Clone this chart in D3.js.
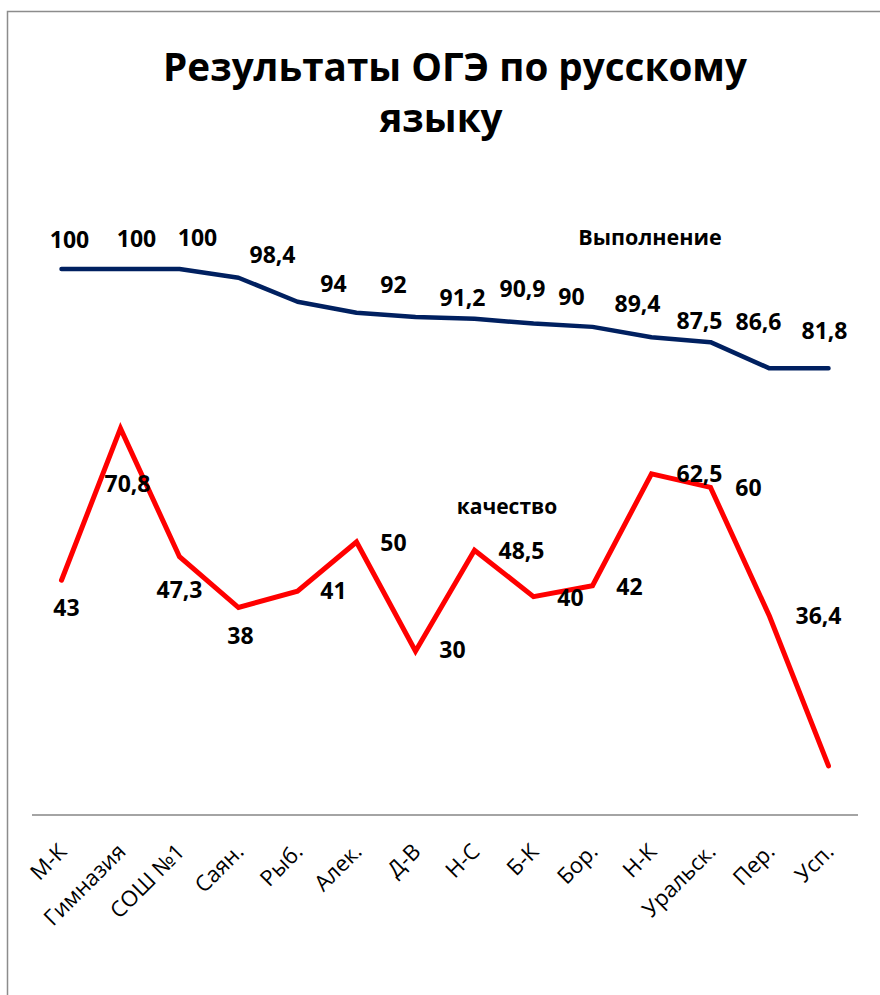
<!DOCTYPE html>
<html><head><meta charset="utf-8">
<script src="https://cdn.jsdelivr.net/npm/d3@7/dist/d3.min.js"></script>
<style>html,body{margin:0;padding:0;background:#fff;}svg{display:block;}</style>
</head><body>
<svg id="chart" width="880" height="995"></svg>
<script>
const categories = ["М-К","Гимназия","СОШ №1","Саян.","Рыб.","Алек.","Д-В","Н-С","Б-К","Бор.","Н-К","Уральск.","Пер.","Усп."];
const completion = [100,100,100,98.4,94,92,91.2,90.9,90,89.4,87.5,86.6,81.8,81.8];
const quality = [43,70.8,47.3,38,41,50,30,48.5,40,42,62.5,60,36.4,9];
const completionLabelCount = 13;
const qualityLabelCount = 13;
const titleLines = ["Результаты ОГЭ по русскому","языку"];
const seriesNames = ["Выполнение","качество"];

// label layout (pixel offsets relative to the data point)
const completionLabelOffsets = [[8,-21],[16,-22],[18,-23],[34,-15],[36,-10],[37,-20],[47,-11],[48,-22],[38,-19],[45,-15],[48,-8],[48,-12],[55,-29]];
const qualityLabelOffsets = [[5,36],[7,64],[0,41],[2,36],[36,8],[37,9],[37,7],[47,9],[37,9],[37,9],[48,8],[38,9],[49,8]];

const svg = d3.select("#chart");
const FONT = "'Open Sans', sans-serif";

// border
svg.append("rect").attr("x",7.5).attr("y",11.5).attr("width",900).attr("height",1000)
  .attr("fill","none").attr("stroke","#8c8c8c").attr("stroke-width",1.5);

const x = d3.scalePoint().domain(categories).range([61.5, 828.5]);
const y = d3.scaleLinear().domain([0,100]).range([815,269]);

// title
const t1 = svg.append("text").attr("x",455).attr("y",81).attr("text-anchor","middle")
  .attr("font-family",FONT).attr("font-weight",700).attr("font-size",40).attr("fill","#000").text(titleLines[0]);
const w = t1.node().getComputedTextLength();
const fs = 40*584/w;
t1.attr("font-size",fs);
svg.append("text").attr("x",441).attr("y",132).attr("text-anchor","middle")
  .attr("font-family",FONT).attr("font-weight",700).attr("font-size",fs).attr("fill","#000").text(titleLines[1]);

// x axis
const xAxis = d3.axisBottom(x).tickSize(0).tickPadding(0);
const gx = svg.append("g").attr("transform","translate(0,815)").call(xAxis);
gx.select(".domain").attr("d","M32,0H858").attr("stroke","#868686").attr("stroke-width",1.5);
gx.selectAll(".tick text")
  .attr("font-family",FONT).attr("font-size",22).attr("fill","#000")
  .attr("text-anchor","end").attr("dy",null).attr("y",null)
  .attr("transform","translate(6,38) rotate(-45)");

// lines
const line = d3.line().x((d,i)=>x(categories[i])).y(d=>y(d));
svg.append("path").datum(completion).attr("d",line).attr("fill","none")
  .attr("stroke","#002060").attr("stroke-width",4.5).attr("stroke-linejoin","round").attr("stroke-linecap","round");
svg.append("path").datum(quality).attr("d",line).attr("fill","none")
  .attr("stroke","#ff0000").attr("stroke-width",5).attr("stroke-linejoin","miter").attr("stroke-linecap","round");

const fmt = v => String(v).replace(".",",");

svg.append("g").selectAll("text").data(completion.slice(0,completionLabelCount)).join("text")
  .attr("x",(d,i)=>x(categories[i])+completionLabelOffsets[i][0])
  .attr("y",(d,i)=>y(d)+completionLabelOffsets[i][1])
  .attr("text-anchor","middle").attr("font-family",FONT).attr("font-weight",700).attr("font-size",23)
  .attr("fill","#000").text(fmt);

svg.append("g").selectAll("text").data(quality.slice(0,qualityLabelCount)).join("text")
  .attr("x",(d,i)=>x(categories[i])+qualityLabelOffsets[i][0])
  .attr("y",(d,i)=>y(d)+qualityLabelOffsets[i][1])
  .attr("text-anchor","middle").attr("font-family",FONT).attr("font-weight",700).attr("font-size",23)
  .attr("fill","#000").text(fmt);

// series name labels
svg.append("text").attr("x",650).attr("y",245).attr("text-anchor","middle")
  .attr("font-family",FONT).attr("font-weight",700).attr("font-size",21.5).attr("fill","#000").text(seriesNames[0]);
svg.append("text").attr("x",507).attr("y",514).attr("text-anchor","middle")
  .attr("font-family",FONT).attr("font-weight",700).attr("font-size",21).attr("fill","#000").text(seriesNames[1]);
</script>
</body></html>
